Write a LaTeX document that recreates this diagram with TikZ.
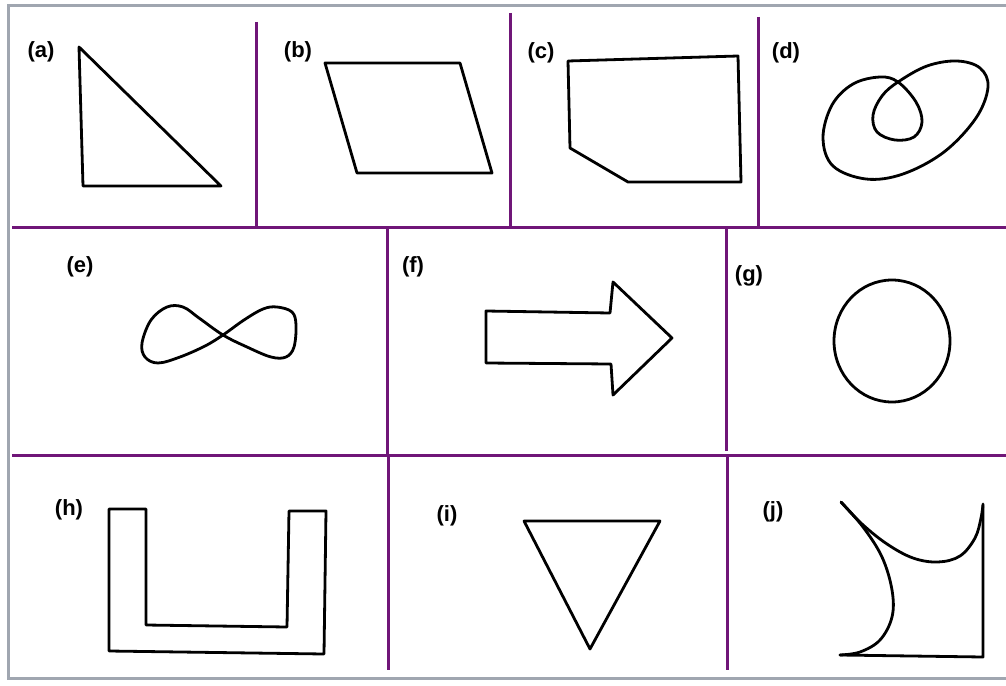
\documentclass[tikz,border=0pt]{standalone}
\usepackage{fontspec}
\setmainfont{Liberation Sans}
\definecolor{divpurple}{RGB}{112,22,120}
\definecolor{framegray}{RGB}{160,166,176}
\begin{document}
\begin{tikzpicture}[
        x=1pt, y=-1pt,
        lbl/.style={font=\bfseries\fontsize{22}{26}\selectfont, inner sep=0pt},
        outline/.style={line width=2.8pt, line join=round, line cap=round, black},
        divider/.style={line width=3pt, divpurple},
        frame/.style={line width=3pt, framegray}
    ]
        \useasboundingbox (0,0) rectangle (1006,685);
        \fill[white] (0,0) rectangle (1006,685);

        % outer frame
        \draw[frame] (1006,6) -- (8,6) -- (8,678) -- (1006,678);

        % dividers
        \draw[divider] (12,227) -- (1006,227);
        \draw[divider] (12,455) -- (1006,455);
        \draw[divider] (256,22) -- (256,227);
        \draw[divider] (510,13) -- (510,227);
        \draw[divider] (758,17) -- (758,227);
        \draw[divider] (387,227) -- (387,455);
        \draw[divider] (726,227) -- (726,451);
        \draw[divider] (388,455) -- (388,670);
        \draw[divider] (727,455) -- (727,670);

        % labels
        \node (la) [lbl] at (41,52) {(a)};
        \node (lb) [lbl] at (298,52) {(b)};
        \node (lc) [lbl] at (541,53) {(c)};
        \node (ld) [lbl] at (786,53) {(d)};
        \node (le) [lbl] at (80,267) {(e)};
        \node (lf) [lbl] at (413,267) {(f)};
        \node (lg) [lbl] at (749,276) {(g)};
        \node (lh) [lbl] at (69,510) {(h)};
        \node (li) [lbl] at (447,516) {(i)};
        \node (lj) [lbl] at (773,512) {(j)};

        % (a) right triangle
        \draw[outline] (79,47) -- (83,186) -- (221,186) -- cycle;
        % (b) parallelogram
        \draw[outline] (325,63) -- (460,63) -- (492,173) -- (357,173) -- cycle;
        % (c) pentagon
        \draw[outline] (568,61) -- (738,56) -- (741,182) -- (628,182) -- (570,148) -- cycle;
        % (d) loop with inner loop
        \draw[outline] plot[smooth cycle, tension=0.6] coordinates {
            (898,82) (882,96) (873,115) (877,132) (895,140) (914,137) (922,122) (916,102)
            (898,82) (880,77) (853,84) (832,105) (823,138) (833,166) (866,179) (903,174)
            (944,152) (976,118) (988,87) (980,68) (957,61) (927,66)};
        % (e) figure eight
        \draw[outline] plot[smooth cycle, tension=0.6] coordinates {
            (223,335) (244,320) (263,309) (277,307) (292,312) (296,325) (294,347) (286,357)
            (271,357) (247,347) (223,335) (199,318) (183,307) (167,307) (151,320) (142,343)
            (145,357) (158,363) (180,357) (205,346)};
        % (f) block arrow
        \draw[outline] (486,311) -- (610,313) -- (613,282) -- (672,338) -- (613,395)
            -- (611,364) -- (486,363) -- cycle;
        % (g) circle
        \draw[outline] (892,341) ellipse [x radius=58, y radius=61];
        % (h) U shape
        \draw[outline] (109,509) -- (146,509) -- (146,625) -- (287,627) -- (289,511)
            -- (326,511) -- (324,654) -- (109,651) -- cycle;
        % (i) inverted triangle
        \draw[outline] (524,521) -- (660,521) -- (590,649) -- cycle;
        % (j) curved figure
        \draw[outline] plot[smooth, tension=0.6] coordinates {
            (841,502) (862,524) (887,544) (913,558) (938,562) (960,556) (975,538) (981,518) (983,504)};
        \draw[outline] (983,506) -- (983,657) -- (840,655);
        \draw[outline] plot[smooth, tension=0.6] coordinates {
            (841,502) (863,527) (882,557) (892,590) (892,617) (880,640) (860,652) (840,655)};
    \end{tikzpicture}
\end{document}
